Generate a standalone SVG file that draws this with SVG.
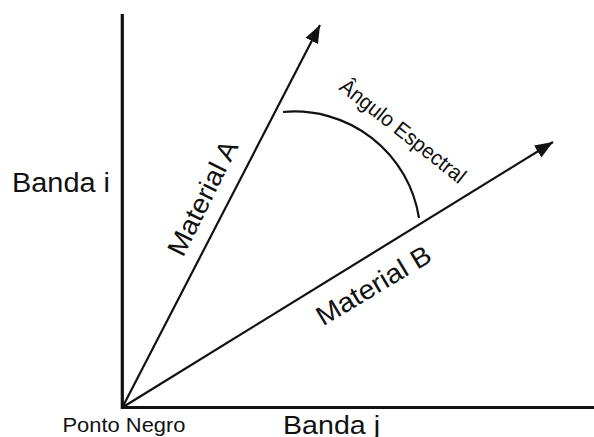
<svg xmlns="http://www.w3.org/2000/svg" width="594" height="437" viewBox="0 0 594 437">
<style>
.axis{stroke:#111;stroke-width:3.2;fill:none}
.vec{stroke:#111;stroke-width:2.2;fill:none}
.arc{stroke:#111;stroke-width:2.2;fill:none}
text{font-family:"Liberation Sans",Arial,sans-serif;fill:#111}
</style>
<defs>
<marker id="ah" markerUnits="userSpaceOnUse" markerWidth="20" markerHeight="16" refX="18" refY="7" orient="auto" viewBox="0 0 20 14">
<path d="M0,0 L18,7 L0,14 Z" fill="#111"/>
</marker>
</defs>
<rect width="594" height="437" fill="#fff"/>
<g id="axes">
<path class="axis" d="M122.3,14 L122.3,407.5 L594,407.5"/>
</g>
<g id="connectors">
<path class="vec" d="M122.3,407.5 L320,25" marker-end="url(#ah)"/>
<path class="vec" d="M122.3,407.5 L553,142" marker-end="url(#ah)"/>
<path class="arc" d="M283,112 A126,126 0 0 1 419,218"/>
</g>
<g id="label-banda-i"><text x="12" y="192" font-size="27" textLength="98" lengthAdjust="spacingAndGlyphs">Banda i</text></g>
<g id="label-banda-j"><text x="283" y="434" font-size="26" textLength="97" lengthAdjust="spacingAndGlyphs">Banda j</text></g>
<g id="label-ponto-negro"><text x="62.5" y="432" font-size="20.5" textLength="123" lengthAdjust="spacingAndGlyphs">Ponto Negro</text></g>
<g id="label-material-a"><text transform="translate(183,258) rotate(-63.5)" font-size="27" textLength="125" lengthAdjust="spacingAndGlyphs">Material A</text></g>
<g id="label-material-b"><text transform="translate(323,326.5) rotate(-31)" font-size="27" textLength="129" lengthAdjust="spacingAndGlyphs">Material B</text></g>
<g id="label-angulo"><text transform="translate(338,89) rotate(38.3)" font-size="21.5" textLength="154" lengthAdjust="spacingAndGlyphs">Ângulo Espectral</text></g>
</svg>
